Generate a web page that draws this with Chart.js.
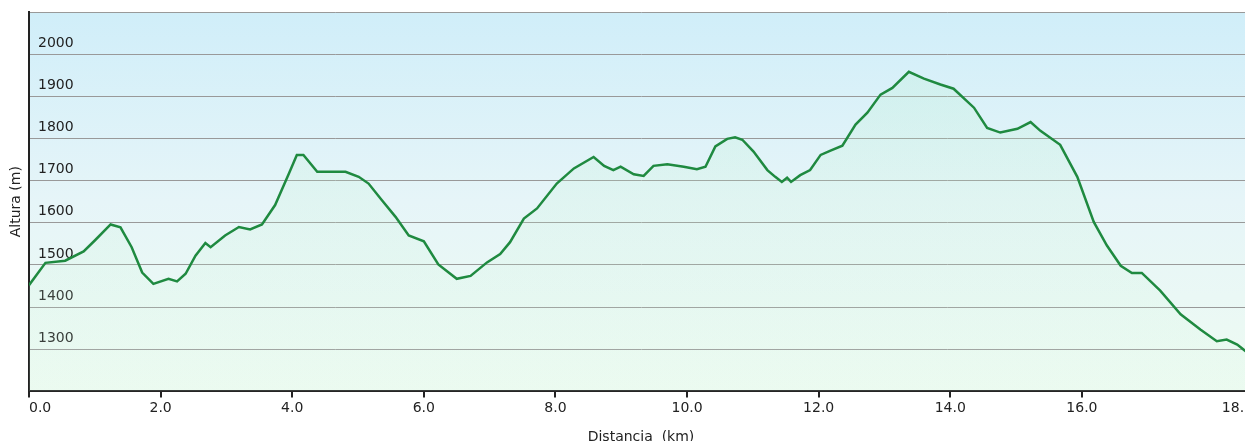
<!DOCTYPE html>
<html lang="es">
<head>
    <meta charset="UTF-8">
    <title>Perfil de altura</title>
    <style>
        html, body { margin: 0; padding: 0; background: #fff; overflow: hidden; }
    </style>
</head>
<body>

    <canvas id="perfil" width="1256" height="450"></canvas>
    <script src="https://cdn.jsdelivr.net/npm/chart.js"></script>

    <script>
        const distancia = [0.00, 0.25, 0.55, 0.83, 1.00, 1.24, 1.39, 1.56, 1.72, 1.89,
            2.12, 2.25, 2.38, 2.53, 2.68, 2.76, 2.98, 3.19, 3.36, 3.54,
            3.74, 3.95, 4.07, 4.17, 4.38, 4.81, 5.01, 5.16, 5.36, 5.57,
            5.77, 6.00, 6.22, 6.50, 6.71, 6.96, 7.16, 7.31, 7.52, 7.72,
            8.02, 8.28, 8.58, 8.74, 8.88, 8.99, 9.19, 9.34, 9.49, 9.70,
            9.95, 10.15, 10.28, 10.43, 10.61, 10.73, 10.84, 11.01, 11.22, 11.34,
            11.44, 11.52, 11.58, 11.72, 11.87, 12.03, 12.18, 12.36, 12.56, 12.74,
            12.94, 13.12, 13.37, 13.60, 13.85, 14.05, 14.36, 14.56, 14.76, 15.02,
            15.22, 15.37, 15.67, 15.93, 16.18, 16.38, 16.59, 16.76, 16.91, 17.19,
            17.50, 17.80, 18.05, 18.20, 18.36, 18.49, 18.60]
        const altura = [1452, 1505, 1510, 1532, 1558, 1596, 1589, 1542, 1482, 1455,
            1467, 1461, 1479, 1522, 1552, 1542, 1570, 1590, 1584, 1596,
            1642, 1717, 1761, 1761, 1721, 1721, 1709, 1693, 1654, 1614,
            1570, 1556, 1501, 1467, 1474, 1506, 1526, 1554, 1610, 1634,
            1693, 1729, 1756, 1735, 1725, 1733, 1715, 1711, 1735, 1739,
            1733, 1727, 1733, 1781, 1799, 1803, 1797, 1769, 1725, 1709,
            1697, 1707, 1697, 1713, 1725, 1761, 1771, 1783, 1833, 1861,
            1904, 1920, 1958, 1942, 1928, 1918, 1873, 1825, 1814, 1823,
            1839, 1818, 1785, 1709, 1602, 1546, 1498, 1481, 1481, 1439,
            1383, 1347, 1319, 1323, 1311, 1295, 1290]
        const ticksX = [0, 2, 4, 6, 8, 10, 12, 14, 16, 18.6]
        const ticksY = [1200, 1300, 1400, 1500, 1600, 1700, 1800, 1900, 2000, 2100]

        const puntos = distancia.map((d, i) => ({ x: d, y: altura[i] }))

        // fondo azul -> verde del area del grafico
        const fondo = {
            id: 'fondo',
            beforeDraw(chart) {
                const { ctx, chartArea: a } = chart
                const g = ctx.createLinearGradient(0, a.top, 0, a.bottom)
                g.addColorStop(0, '#d0eef9')
                g.addColorStop(0.5, '#e6f5f8')
                g.addColorStop(1, '#eefbf2')
                ctx.save()
                ctx.fillStyle = g
                ctx.fillRect(a.left, a.top, a.right - a.left, a.bottom - a.top)
                ctx.restore()
            }
        }

        const fuente = { family: "'DejaVu Sans', Verdana, sans-serif", size: 14 }

        const ctx = document.getElementById('perfil')
        const perfil = new Chart(ctx, {
            type: 'line',
            data: {
                datasets: [{
                    data: puntos,
                    borderColor: '#1f8a40',
                    borderWidth: 2.5,
                    pointRadius: 0,
                    tension: 0,
                    fill: 'start',
                    backgroundColor: (c) => {
                        const a = c.chart.chartArea
                        if (!a) return 'rgba(170,235,185,0.15)'
                        const g = c.chart.ctx.createLinearGradient(0, a.top, 0, a.bottom)
                        g.addColorStop(0, 'rgba(175,238,195,0.22)')
                        g.addColorStop(1, 'rgba(215,248,225,0.12)')
                        return g
                    }
                }]
            },
            options: {
                responsive: false,
                animation: false,
                devicePixelRatio: 1,
                layout: { padding: { top: 12, left: 0, right: 0, bottom: 0 } },
                plugins: {
                    legend: { display: false },
                    tooltip: { enabled: false }
                },
                scales: {
                    x: {
                        type: 'linear',
                        min: 0,
                        max: 18.6,
                        afterBuildTicks: (s) => { s.ticks = ticksX.map(v => ({ value: v })) },
                        grid: {
                            drawOnChartArea: false,
                            color: '#222',
                            lineWidth: 2,
                            tickLength: 6
                        },
                        border: { display: true, color: '#222', width: 2 },
                        ticks: {
                            autoSkip: false,
                            maxRotation: 0,
                            align: 'inner',
                            padding: 3,
                            color: '#222',
                            font: fuente,
                            callback: (v) => Number(v).toFixed(1)
                        },
                        title: {
                            display: true,
                            text: 'Distancia  (km)',
                            color: '#222',
                            font: fuente,
                            padding: { top: 9, bottom: 4 }
                        }
                    },
                    y: {
                        min: 1200,
                        max: 2100,
                        afterBuildTicks: (s) => { s.ticks = ticksY.map(v => ({ value: v })) },
                        afterFit: (s) => {
                            s.width = 29
                            s.paddingTop = 0
                            s.paddingBottom = 0
                        },
                        grid: {
                            color: '#999',
                            lineWidth: 1,
                            drawTicks: false
                        },
                        border: { display: true, color: '#222', width: 2 },
                        ticks: {
                            mirror: true,
                            padding: 9,
                            labelOffset: -11,
                            color: '#222',
                            font: fuente,
                            callback: (v) => (v === 1200 || v === 2100) ? '' : v
                        },
                        title: {
                            display: true,
                            text: 'Altura (m)',
                            color: '#222',
                            font: fuente,
                            padding: { top: 8, bottom: 4 }
                        }
                    }
                }
            },
            plugins: [fondo]
        })
    </script>

</body>
</html>
